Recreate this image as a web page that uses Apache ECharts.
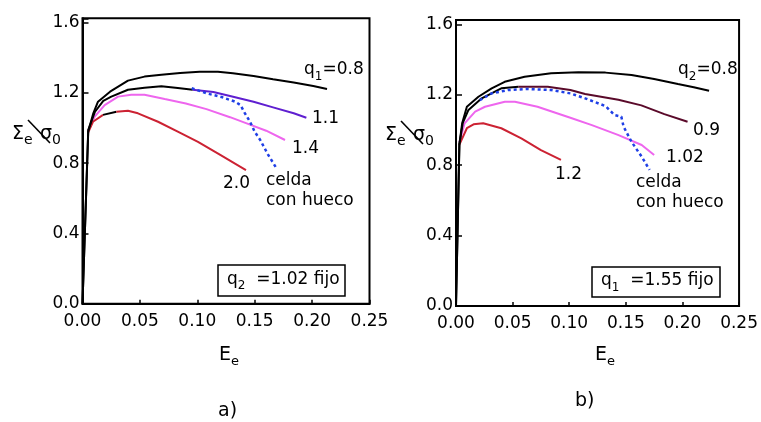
<!DOCTYPE html>
<html>
<head>
<meta charset="utf-8">
<script src="https://cdn.jsdelivr.net/npm/echarts@6/dist/echarts.min.js"></script>
<style>
  html, body { margin: 0; padding: 0; background: #fff; }
  #chart { width: 761px; height: 422px; }
</style>
</head>
<body>
<div id="chart"></div>
<script>
// Macroscopic stress-strain response (Σe/σ0 vs Ee) of the porous model.
// Panel a: q2 = 1.02 fixed, q1 varied. Panel b: q1 = 1.55 fixed, q2 varied.

const xTicks = [0, 0.05, 0.10, 0.15, 0.20, 0.25];
const yTicks = [0, 0.4, 0.8, 1.2, 1.6];

// ---- panel a) ----
const aQ1_08 = [[0,0],[0.005,0.98],[0.0094,1.084],[0.0135,1.15],[0.024,1.207],[0.0396,1.27],[0.054,1.293],[0.0687,1.303],[0.085,1.314],[0.102,1.32],[0.118,1.321],[0.131,1.312],[0.149,1.297],[0.166,1.278],[0.184,1.259],[0.201,1.24],[0.213,1.223]];
const aQ1_11_start = [[0,0],[0.005,0.99],[0.0109,1.093],[0.0181,1.155],[0.0251,1.179],[0.0396,1.218],[0.054,1.23],[0.0687,1.238],[0.083,1.228],[0.096,1.218]];
const aQ1_11_end = [[0.096,1.218],[0.114,1.205],[0.1285,1.183],[0.149,1.15],[0.166,1.118],[0.184,1.084],[0.195,1.059]];
const aQ1_14 = [[0.005,0.985],[0.0106,1.065],[0.0193,1.131],[0.031,1.179],[0.0425,1.19],[0.054,1.19],[0.0716,1.165],[0.09,1.14],[0.108,1.108],[0.1285,1.062],[0.143,1.027],[0.16,0.985],[0.1764,0.932]];
const aQ1_20_start = [[0.005,0.975],[0.0091,1.036],[0.0179,1.075]];
const aQ1_20_mid = [[0.0179,1.075],[0.0295,1.093]];
const aQ1_20_end = [[0.0295,1.093],[0.0396,1.099],[0.0483,1.084],[0.0658,1.036],[0.083,0.98],[0.1006,0.922],[0.12,0.847],[0.1424,0.761]];
const aCelda = [[0.0951,1.227],[0.108,1.198],[0.122,1.175],[0.133,1.15],[0.1376,1.131],[0.1415,1.084],[0.1459,1.036],[0.15,0.979],[0.155,0.93],[0.1615,0.85],[0.169,0.771]];

// ---- panel b) ----
const bQ2_08 = [[0,0],[0.003,0.92],[0.0055,1.04],[0.0096,1.132],[0.0198,1.189],[0.0315,1.237],[0.043,1.274],[0.0606,1.303],[0.084,1.322],[0.108,1.328],[0.132,1.326],[0.155,1.313],[0.175,1.29],[0.196,1.261],[0.21,1.243],[0.2235,1.223]];
const bQ2_09_start = [[0,0],[0.003,0.92],[0.006,1.04],[0.011,1.114],[0.0227,1.18],[0.04,1.237],[0.055,1.246]];
const bQ2_09_end = [[0.055,1.246],[0.081,1.246],[0.101,1.227],[0.114,1.205],[0.1434,1.172],[0.1637,1.14],[0.184,1.09],[0.2045,1.047]];
const bQ2_102 = [[0.003,0.93],[0.0076,1.038],[0.0169,1.104],[0.0256,1.132],[0.0431,1.161],[0.052,1.161],[0.072,1.132],[0.101,1.07],[0.12,1.028],[0.143,0.972],[0.164,0.915],[0.175,0.858]];
const bQ2_12 = [[0.0029,0.915],[0.0096,1.01],[0.0155,1.032],[0.024,1.038],[0.04,1.01],[0.0577,0.953],[0.075,0.886],[0.0927,0.83]];
const bCelda = [[0.021,1.17],[0.0315,1.208],[0.046,1.227],[0.0636,1.233],[0.084,1.227],[0.101,1.208],[0.114,1.18],[0.132,1.136],[0.14,1.085],[0.146,1.076],[0.148,1.019],[0.155,0.933],[0.164,0.848],[0.171,0.773]];

const FONT = 'DejaVu Sans';
const BLACK = '#000000';
const MAGENTA = '#ee66ee';
const RED = '#cc2233';
const PURPLE = '#5f1fd0';
const MAROON = '#5a0a2a';
const BLUE = '#1f3fe6';

function xAxisDef(gridIndex) {
  return {
    type: 'value', gridIndex, min: xTicks[0], max: xTicks[xTicks.length - 1], interval: 0.05,
    splitLine: { show: false },
    axisLine: { onZero: false, lineStyle: { color: BLACK, width: 2 } },
    axisTick: { inside: true, length: 4, lineStyle: { color: BLACK, width: 1.5 } },
    axisLabel: { color: BLACK, fontFamily: FONT, fontSize: 17, margin: 9,
      formatter: v => v.toFixed(2) }
  };
}
function yAxisDef(gridIndex) {
  return {
    type: 'value', gridIndex, min: yTicks[0], max: 1.625, interval: 0.4,
    splitLine: { show: false },
    axisLine: { onZero: false, lineStyle: { color: BLACK, width: 2 } },
    axisTick: { inside: true, length: 6, lineStyle: { color: BLACK, width: 1.5 } },
    axisLabel: { color: BLACK, fontFamily: FONT, fontSize: 17, margin: 3,
      formatter: v => (v > yTicks[yTicks.length - 1] + 1e-6 ? '' : v.toFixed(1)) }
  };
}
function curve(data, color, axis, opts = {}) {
  return {
    type: 'line', data, xAxisIndex: axis, yAxisIndex: axis, showSymbol: false, smooth: false,
    animation: false, silent: true, z: opts.z || 2,
    lineStyle: { color, width: opts.width || 2, type: opts.type || 'solid', cap: opts.cap || 'butt' }
  };
}
function txt(x, y, text, size, extra = {}) {
  return { type: 'text', left: x, top: y, style: Object.assign({ text, fill: BLACK, font: size + 'px "' + FONT + '"' }, extra) };
}
// text with a lowered subscript, built from rich fragments
function subText(x, y, main, sub, tail, size, subSize) {
  return {
    type: 'text', x, y,
    style: {
      text: '{n|' + main + '}{s|' + sub + '}{n|' + tail + '}',
      verticalAlign: 'middle',
      rich: {
        n: { fontFamily: FONT, fontSize: size, lineHeight: size + 8, verticalAlign: 'middle', fill: BLACK },
        s: { fontFamily: FONT, fontSize: subSize || Math.round(size * 0.7), verticalAlign: 'bottom', fill: BLACK }
      }
    }
  };
}
// vertical axis title: Σe ╲ σ0
function yName(x0, yc) {
  return [
    subText(x0, yc, 'Σ', 'e', '', 19, 14),
    { type: 'line', shape: { x1: x0 + 16, y1: yc - 14, x2: x0 + 38, y2: yc + 9 }, style: { stroke: BLACK, lineWidth: 1.6 } },
    subText(x0 + 28, yc, 'σ', '0', '', 19, 14)
  ];
}
function box(x, y, w, h, sub, tail) {
  return [
    { type: 'rect', shape: { x, y, width: w, height: h }, style: { fill: '#fff', stroke: BLACK, lineWidth: 1.5 }, z: 10 },
    Object.assign(subText(x + 9, y + h / 2 - 1, 'q', sub, '  ' + tail, 17), { z: 11 })
  ];
}

const option = {
  animation: false,
  backgroundColor: '#fff',
  grid: [
    { left: 82.5, top: 18.3, width: 287, height: 285.4, show: true, borderColor: BLACK, borderWidth: 2 },
    { left: 456, top: 20, width: 286, height: 286, show: true, borderColor: BLACK, borderWidth: 2 }
  ],
  xAxis: [xAxisDef(0), xAxisDef(1)],
  yAxis: [yAxisDef(0), yAxisDef(1)],
  series: [
    curve(aQ1_14, MAGENTA, 0),
    curve(aQ1_20_start, RED, 0),
    curve(aQ1_20_mid, BLACK, 0),
    curve(aQ1_20_end, RED, 0),
    curve(aQ1_11_end, PURPLE, 0),
    curve(aQ1_11_start, BLACK, 0, { z: 3 }),
    curve(aQ1_08, BLACK, 0, { z: 3 }),
    curve(aCelda, BLUE, 0, { z: 4, width: 2.5, type: [3, 3] }),

    curve(bQ2_102, MAGENTA, 1),
    curve(bQ2_12, RED, 1),
    curve(bQ2_09_end, MAROON, 1),
    curve(bQ2_09_start, BLACK, 1, { z: 3 }),
    curve(bQ2_08, BLACK, 1, { z: 3 }),
    curve(bCelda, BLUE, 1, { z: 4, width: 2.5, type: [3, 3] })
  ],
  graphic: [
    // panel a) curve labels
    subText(304, 70, 'q', '1', '=0.8', 17),
    txt(312, 110, '1.1', 17),
    txt(292, 140, '1.4', 17),
    txt(223, 175, '2.0', 17),
    txt(266, 172, 'celda', 17),
    txt(266, 192, 'con hueco', 17),
    ...box(218, 265, 127, 31, '2', '=1.02 fijo'),
    ...yName(12, 134),
    subText(219, 355, 'E', 'e', '', 19),
    txt(218, 402, 'a)', 19),

    // panel b) curve labels
    subText(678, 70, 'q', '2', '=0.8', 17),
    txt(693, 122, '0.9', 17),
    txt(666, 149, '1.02', 17),
    txt(555, 166, '1.2', 17),
    txt(636, 174, 'celda', 17),
    txt(636, 194, 'con hueco', 17),
    ...box(592, 267, 128, 30, '1', '=1.55 fijo'),
    ...yName(385, 135),
    subText(595, 355, 'E', 'e', '', 19),
    txt(575, 392, 'b)', 19)
  ]
};

const chart = echarts.init(document.getElementById('chart'), null, { renderer: 'canvas' });
chart.setOption(option);
</script>
</body>
</html>
